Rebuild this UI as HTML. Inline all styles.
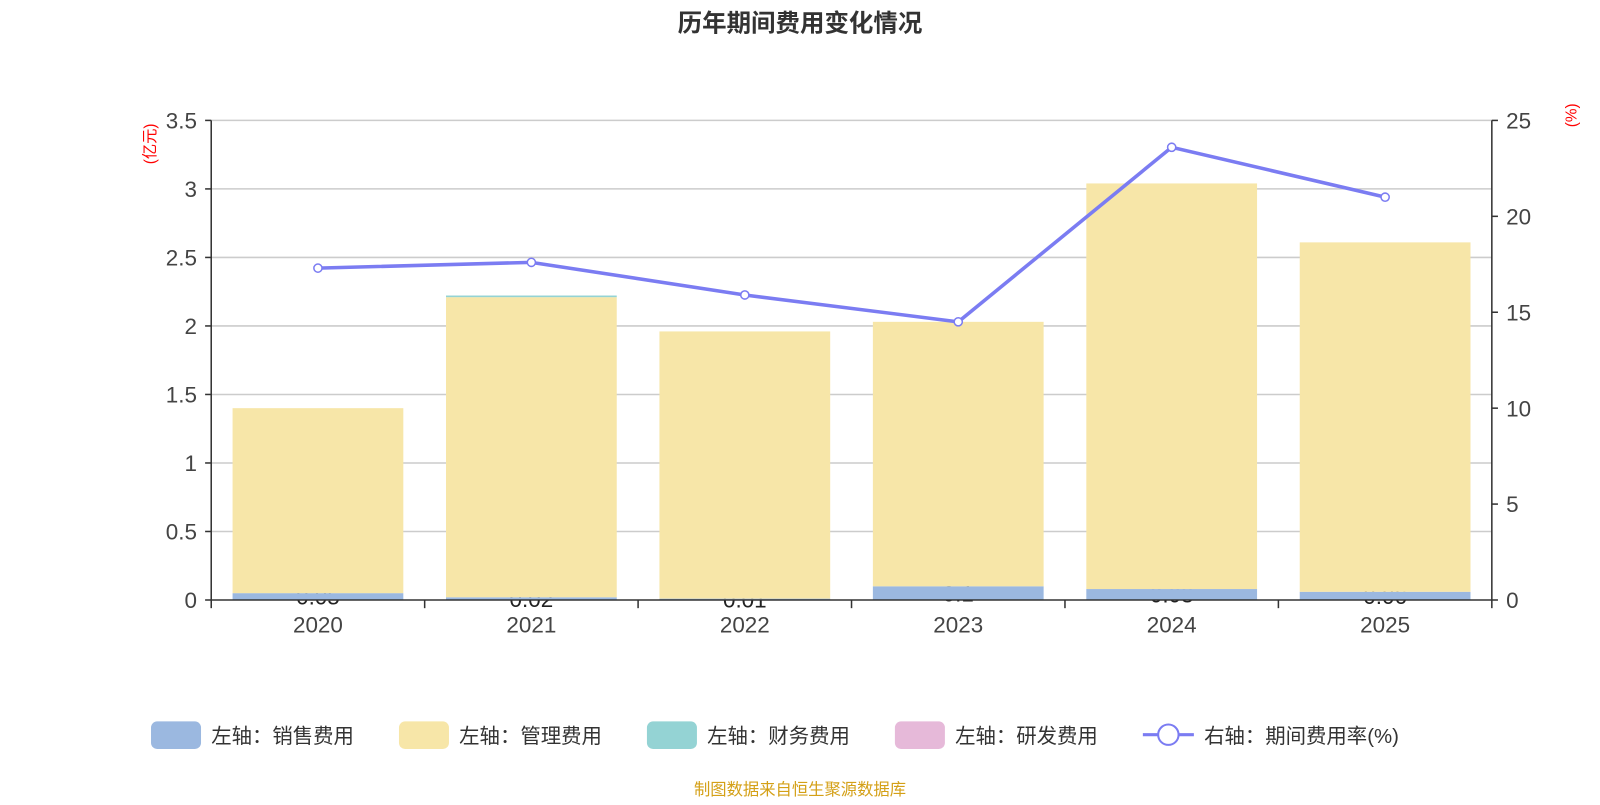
<!DOCTYPE html>
<html><head><meta charset="utf-8">
<style>
body{margin:0;background:#fff;}
svg text{font-family:"Liberation Sans","Noto Sans CJK SC",sans-serif;}
</style></head>
<body>
<svg id="c" width="1600" height="800" viewBox="0 0 1568 784" preserveAspectRatio="none" xmlns="http://www.w3.org/2000/svg">
<text x="784" y="31" text-anchor="middle" font-size="24" font-weight="bold" fill="#333">历年期间费用变化情况</text>
<text transform="translate(152,141) rotate(-90)" text-anchor="middle" font-size="15" fill="red">(亿元)</text>
<text transform="translate(1545,113) rotate(-90)" text-anchor="middle" font-size="15" fill="red">(%)</text>
<g id="grid"></g><g id="bars"></g><g id="line"></g><g id="axes"></g>
<g font-size="20" fill="#333">
<g><rect x="148" y="707" width="49" height="27" rx="6" fill="#9bb8e0"/><text x="207" y="728">左轴：销售费用</text></g>
<g><rect x="391" y="707" width="49" height="27" rx="6" fill="#f7e6a8"/><text x="450" y="728">左轴：管理费用</text></g>
<g><rect x="634" y="707" width="49" height="27" rx="6" fill="#94d3d4"/><text x="693" y="728">左轴：财务费用</text></g>
<g><rect x="877" y="707" width="49" height="27" rx="6" fill="#e6b9d9"/><text x="936" y="728">左轴：研发费用</text></g>
<g><line x1="1120" y1="720" x2="1170" y2="720" stroke="#7b7cf2" stroke-width="3"/><circle cx="1145" cy="720" r="10" fill="#fff" stroke="#7b7cf2" stroke-width="2"/><text x="1180" y="728">右轴：期间费用率(%)</text></g>
</g>
<text x="784" y="779" text-anchor="middle" font-size="16" fill="#d4a017">制图数据来自恒生聚源数据库</text>
</svg>
<script>
const categories=["2020","2021","2022","2023","2024","2025"];
const sales=[0.05,0.02,0.01,0.1,0.08,0.06];
const admin=[1.35,2.19,1.95,1.93,2.96,2.55];
const finance=[0,0.012,0,0,0,0];
const rd=[0,0,0,0,0,0];
const rate=[17.3,17.6,15.9,14.5,23.6,21.0];
const leftTicks=["0","0.5","1","1.5","2","2.5","3","3.5"];
const rightTicks=["0","5","10","15","20","25"];
const NS="http://www.w3.org/2000/svg";
const X0=207,X1=1462,Y0=588,Y1=118;
const band=(X1-X0)/categories.length;
const yL=v=>Y0-(v/3.5)*(Y0-Y1);
const yR=v=>Y0-(v/25)*(Y0-Y1);
const xc=i=>X0+band*(i+0.5);
function mk(t,a,p){const e=document.createElementNS(NS,t);for(const k in a)e.setAttribute(k,a[k]);p.appendChild(e);return e;}
const grid=document.getElementById('grid'),bars=document.getElementById('bars'),line=document.getElementById('line'),axes=document.getElementById('axes');
leftTicks.forEach(t=>{const y=yL(+t);
 if(+t>0){const g=mk('line',{x1:X0,x2:X1,y1:y,y2:y,stroke:'#ccc','stroke-width':1.5},grid);
 
 }
 mk('line',{x1:X0-6,x2:X0,y1:y,y2:y,stroke:'#333','stroke-width':1.5},axes);
 const tx=mk('text',{x:X0-14,y:y+8,'text-anchor':'end','font-size':22,fill:'#444'},axes);tx.textContent=t;
 
 });
rightTicks.forEach(t=>{const y=yR(+t);
 mk('line',{x1:X1,x2:X1+6,y1:y,y2:y,stroke:'#333','stroke-width':1.5},axes);
 const tx=mk('text',{x:X1+14,y:y+8,'font-size':22,fill:'#444'},axes);tx.textContent=t;
 
 });
mk('line',{x1:X0,x2:X0,y1:Y1,y2:Y0,stroke:'#333','stroke-width':1.5},axes);
mk('line',{x1:X1,x2:X1,y1:Y1,y2:Y0,stroke:'#333','stroke-width':1.5},axes);
mk('line',{x1:X0,x2:X1,y1:Y0,y2:Y0,stroke:'#333','stroke-width':1.5},axes);
for(let i=0;i<=categories.length;i++){const x=X0+band*i;mk('line',{x1:x,x2:x,y1:Y0,y2:Y0+8,stroke:'#333','stroke-width':1.5},axes);}
const bw=band*0.8;
const labG=mk('g',{},bars);
categories.forEach((c,i)=>{
 const x=xc(i)-bw/2;let base=0;
 const segs=[[sales[i],'#9bb8e0','bar-sales-'],[admin[i],'#f7e6a8','bar-admin-'],[finance[i],'#94d3d4','bar-finance-'],[rd[i],'#e6b9d9','bar-rd-']];
 segs.forEach((s,k)=>{if(s[0]<=0)return;const yt=yL(base+s[0]),yb=yL(base);
  const r=mk('rect',{x:x,y:yt,width:bw,height:yb-yt,fill:s[1]},bars);
  
  
  if(k===0){const t=mk('text',{x:xc(i),y:(yt+yb)/2+8,'text-anchor':'middle','font-size':22,fill:'#222'},labG);t.textContent=String(s[0]);
   
   }
  base+=s[0];});
 const tx=mk('text',{x:xc(i),y:Y0+32,'text-anchor':'middle','font-size':22,fill:'#444'},axes);tx.textContent=c;
 
 
});
bars.insertBefore(labG,bars.firstChild);
const pts=rate.map((v,i)=>xc(i)+','+yR(v)).join(' ');
const pl=mk('polyline',{points:pts,fill:'none',stroke:'#7b7cf2','stroke-width':3.5},line);


rate.forEach((v,i)=>{const p=mk('circle',{cx:xc(i),cy:yR(v),r:4,fill:'#fff',stroke:'#7b7cf2','stroke-width':1.5},line);
 
 });
</script>
</body></html>
